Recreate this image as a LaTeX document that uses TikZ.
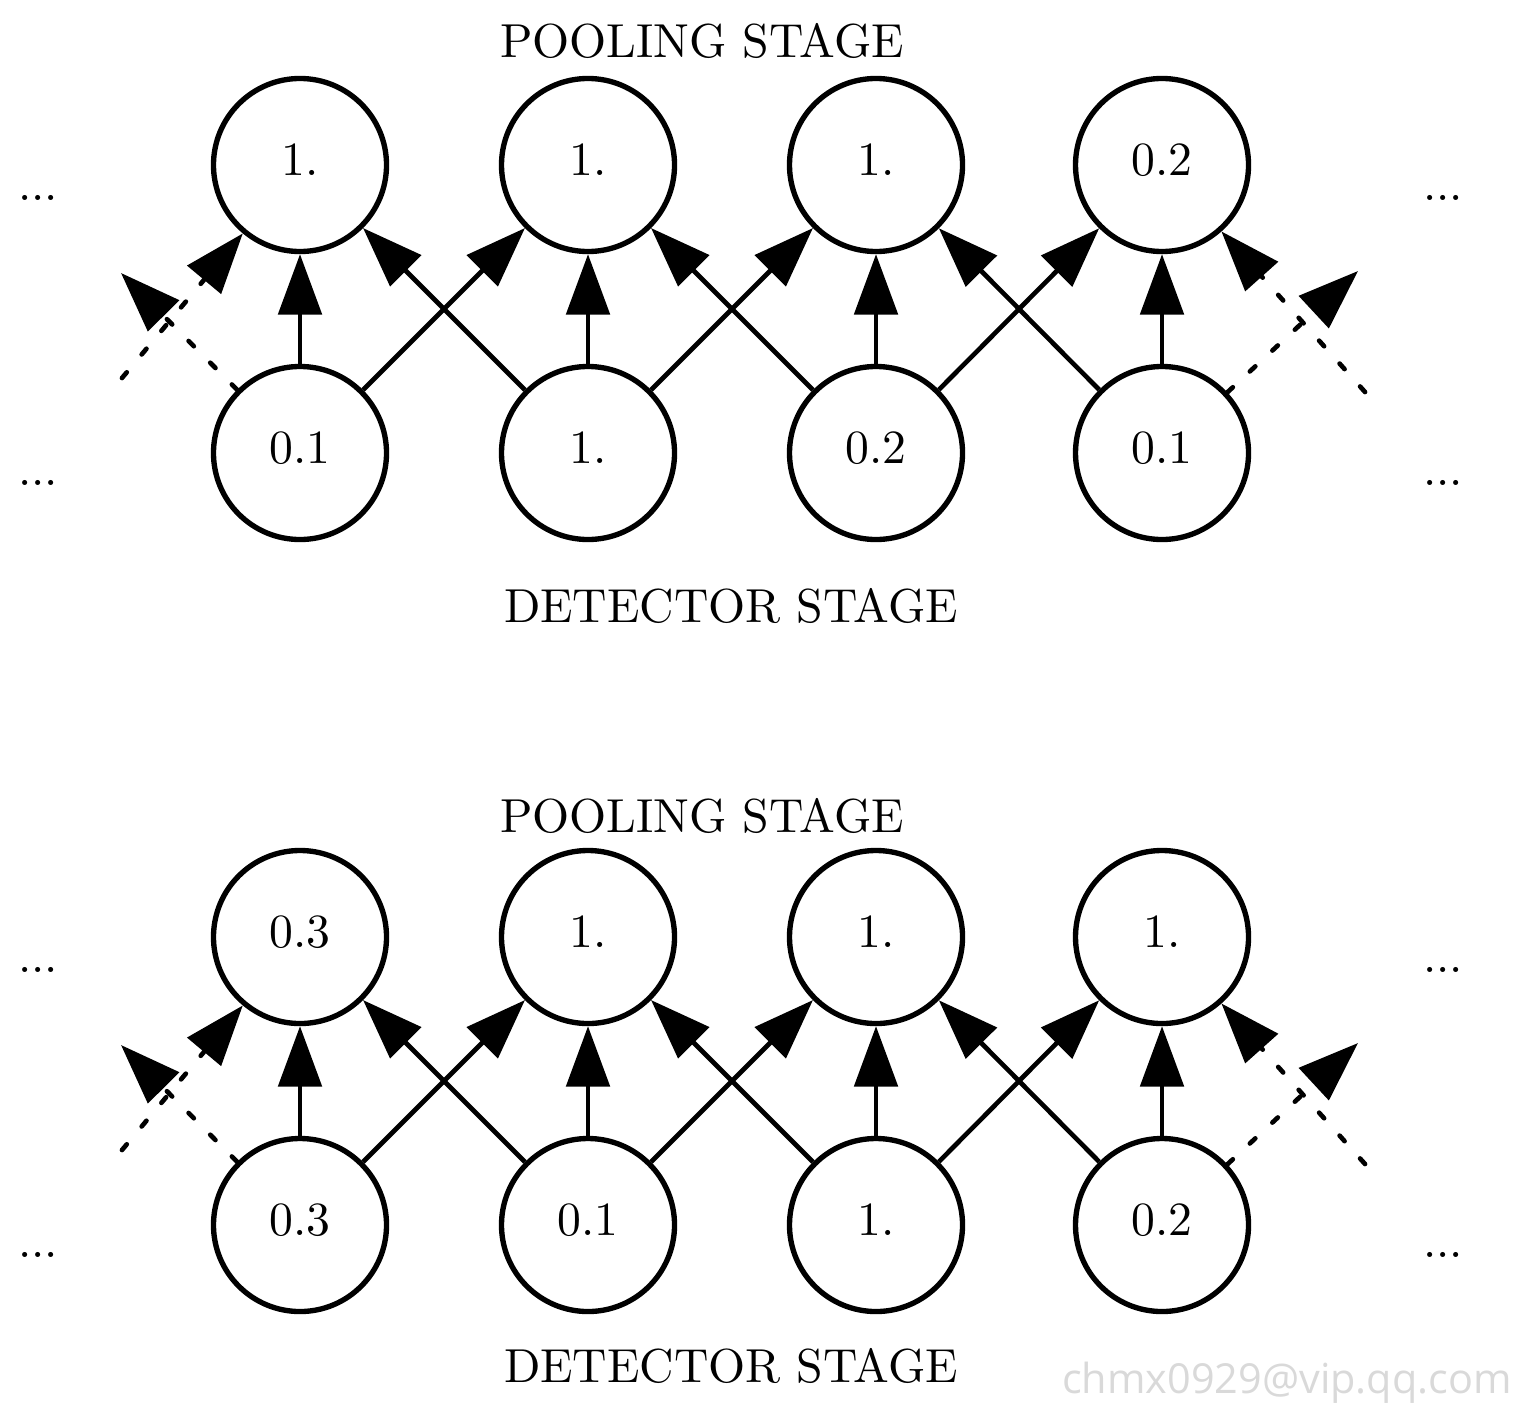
\documentclass[tikz,border=0pt]{standalone}
\usepackage{fontspec}
\newfontfamily\wmfont{Open Sans}
\usetikzlibrary{arrows.meta}
\begin{document}
\begin{tikzpicture}[x=0.215pt,y=-0.215pt,
  font=\fontsize{10.25pt}{12pt}\selectfont,
  unit/.style={circle,draw,line width=1.15pt,minimum size=37.2pt,inner sep=0pt,text height=6.6pt,text depth=2.2pt},
  conn/.style={line width=1pt,-{Triangle[length=13pt,width=9.3pt]}},
  dconn/.style={conn,dash pattern=on 1.6pt off 5pt,line cap=round},
  stage/.style={inner sep=0pt},
  dots/.style={anchor=base,inner sep=0pt}]
\useasboundingbox (0,0) rectangle (1520,1412);
% ---------- top panel ----------
\foreach \i/\x/\v in {1/300/1.,2/588/1.,3/876/1.,4/1162/0.2}
  \node[unit] (tp\i) at (\x,165) {\v};
\foreach \i/\x/\v in {1/300/0.1,2/588/1.,3/876/0.2,4/1162/0.1}
  \node[unit] (td\i) at (\x,453) {\v};
\foreach \i in {1,...,4} \draw[conn] (td\i) -- (tp\i);
\foreach \i/\j in {1/2,2/3,3/4} {\draw[conn] (td\i) -- (tp\j); \draw[conn] (td\j) -- (tp\i);}
\coordinate (tla) at (121,273);
\coordinate (tlb) at (122,378);
\coordinate (tra) at (1358,271);
\coordinate (trb) at (1365,392);
\draw[dconn] (td1) -- (tla);
\draw[dconn] (tlb) -- (tp1);
\draw[dconn] (td4) -- (tra);
\draw[dconn] (trb) -- (tp4);
\node[stage] (tpool) at (702,41) {POOLING STAGE};
\node[stage] (tdet) at (731,606) {DETECTOR STAGE};
\node[dots] (tdl1) at (38,200.5) {...};
\node[dots] (tdr1) at (1443,200.5) {...};
\node[dots] (tdl2) at (38,485.5) {...};
\node[dots] (tdr2) at (1443,485.5) {...};
% ---------- bottom panel ----------
\foreach \i/\x/\v in {1/300/0.3,2/588/1.,3/876/1.,4/1162/1.}
  \node[unit] (bp\i) at (\x,937) {\v};
\foreach \i/\x/\v in {1/300/0.3,2/588/0.1,3/876/1.,4/1162/0.2}
  \node[unit] (bd\i) at (\x,1225) {\v};
\foreach \i in {1,...,4} \draw[conn] (bd\i) -- (bp\i);
\foreach \i/\j in {1/2,2/3,3/4} {\draw[conn] (bd\i) -- (bp\j); \draw[conn] (bd\j) -- (bp\i);}
\coordinate (bla) at (121,1045);
\coordinate (blb) at (122,1150);
\coordinate (bra) at (1358,1043);
\coordinate (brb) at (1365,1164);
\draw[dconn] (bd1) -- (bla);
\draw[dconn] (blb) -- (bp1);
\draw[dconn] (bd4) -- (bra);
\draw[dconn] (brb) -- (bp4);
\node[stage] (bpool) at (702,816) {POOLING STAGE};
\node[stage] (bdet) at (731,1366) {DETECTOR STAGE};
\node[dots] (bdl1) at (38,972.5) {...};
\node[dots] (bdr1) at (1443,972.5) {...};
\node[dots] (bdl2) at (38,1257.5) {...};
\node[dots] (bdr2) at (1443,1257.5) {...};
% ---------- watermark ----------
\node[anchor=base,inner sep=0pt,text=gray!30,font=\wmfont\fontsize{8.9pt}{10pt}\selectfont] (wm) at (1287,1393) {chmx0929@vip.qq.com};
\end{tikzpicture}
\end{document}
